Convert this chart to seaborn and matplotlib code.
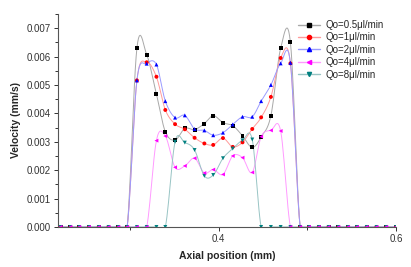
import matplotlib
matplotlib.use('Agg')
import matplotlib.pyplot as plt
import matplotlib.ticker as mticker
from matplotlib.lines import Line2D
import seaborn as sns
import pandas as pd
import numpy as np

# axial positions (mm) of the sampled points
x_pos = [0.222, 0.233, 0.243, 0.254, 0.265, 0.276, 0.287, 0.297, 0.308, 0.319,
         0.330, 0.340, 0.351, 0.362, 0.373, 0.384, 0.394, 0.405, 0.416, 0.427,
         0.438, 0.448, 0.459, 0.470, 0.481, 0.492, 0.502, 0.513, 0.524, 0.535,
         0.546, 0.556, 0.567, 0.578, 0.589, 0.600]

z8 = [0.0] * 8
v_05 = z8 + [0.0063, 0.00607, 0.00468, 0.00335, 0.00306, 0.00347, 0.00343, 0.00364,
             0.00392, 0.00367, 0.00357, 0.00321, 0.0028, 0.00317, 0.00392, 0.00629,
             0.0065] + [0.0] * 11
v_1 = z8 + [0.00516, 0.0058, 0.00529, 0.00412, 0.00362, 0.00344, 0.00314, 0.00294,
            0.00289, 0.00313, 0.00282, 0.00298, 0.00345, 0.00386, 0.00458, 0.00595,
            0.00576] + [0.0] * 11
v_2 = z8 + [0.00516, 0.00575, 0.00572, 0.00443, 0.00385, 0.00393, 0.00345, 0.0034,
            0.00323, 0.00332, 0.00361, 0.00388, 0.00388, 0.00443, 0.0050, 0.00576,
            0.00578] + [0.0] * 11
v_4 = [0.0] * 10 + [0.00304, 0.0032, 0.0021, 0.00215, 0.00242, 0.0019, 0.00202,
                    0.00185, 0.0025, 0.00244, 0.00192, 0.00318, 0.0034, 0.00338] + [0.0] * 12
v_8 = [0.0] * 12 + [0.003, 0.00297, 0.00271, 0.0018, 0.00183, 0.00242, 0.00276,
                    0.00305, 0.00308] + [0.0] * 15

labels = ['Qo=0.5μl/min', 'Qo=1μl/min', 'Qo=2μl/min', 'Qo=4μl/min', 'Qo=8μl/min']
values = [v_05, v_1, v_2, v_4, v_8]
colors = ['#000000', '#ff0000', '#0000ff', '#ff00ff', '#008080']
light = ['#a8a8a8', '#ff9a9a', '#9a9aff', '#ff9aff', '#98c4c4']
marks = ['s', 'o', '^', '<', 'v']


def smooth(x, y, n=12):
    # Catmull-Rom curve through the points, for the drawn line only
    x = np.asarray(x)
    y = np.asarray(y)
    yp = np.concatenate([[y[0]], y, [y[-1]]])
    xs, ys = [], []
    t = np.linspace(0, 1, n, endpoint=False)
    for i in range(len(x) - 1):
        p0, p1, p2, p3 = yp[i], yp[i + 1], yp[i + 2], yp[i + 3]
        yy = 0.5 * (2 * p1 + (-p0 + p2) * t + (2 * p0 - 5 * p1 + 4 * p2 - p3) * t ** 2
                    + (-p0 + 3 * p1 - 3 * p2 + p3) * t ** 3)
        xs.extend(x[i] + (x[i + 1] - x[i]) * t)
        ys.extend(yy)
    xs.append(x[-1])
    ys.append(y[-1])
    return xs, ys


rows = []
lines = []
for lab, v in zip(labels, values):
    for xx, vv in zip(x_pos, v):
        rows.append({'x': xx, 'v': vv, 'series': lab})
    sx, sy = smooth(x_pos, v)
    for xx, vv in zip(sx, sy):
        lines.append({'x': xx, 'v': vv, 'series': lab})
df = pd.DataFrame(rows)
dl = pd.DataFrame(lines)

# magenta markers sit on top at zero
order = ['Qo=0.5μl/min', 'Qo=1μl/min', 'Qo=2μl/min', 'Qo=8μl/min', 'Qo=4μl/min']
df['series'] = pd.Categorical(df['series'], order)
df = df.sort_values('series', kind='stable')

sns.set_style('ticks')
plt.rcParams['font.family'] = ['Liberation Sans', 'DejaVu Sans']

fig = plt.figure(figsize=(4.11, 2.67), dpi=100)
ax = fig.add_axes([0.141, 0.150, 0.8225, 0.7976])

sns.lineplot(data=dl, x='x', y='v', hue='series', palette=dict(zip(labels, light)),
             estimator=None, sort=False, linewidth=0.7, legend=False, ax=ax)
sns.scatterplot(data=df, x='x', y='v', hue='series', style='series',
                palette=dict(zip(labels, colors)), markers=dict(zip(labels, marks)),
                hue_order=order, style_order=order,
                s=8, linewidth=0, legend=False, ax=ax, zorder=3)

ax.set_xlim(0.219, 0.6)
ax.set_ylim(0, 0.0075)
ax.xaxis.set_major_locator(mticker.FixedLocator([0.4, 0.6]))
ax.xaxis.set_minor_locator(mticker.FixedLocator([0.3, 0.5]))
ax.yaxis.set_major_locator(mticker.MultipleLocator(0.001))
ax.yaxis.set_minor_locator(mticker.MultipleLocator(0.0005))
ax.yaxis.set_major_formatter(mticker.FormatStrFormatter('%.3f'))
ax.xaxis.set_major_formatter(mticker.FormatStrFormatter('%.1f'))
ax.tick_params(which='major', length=3, width=0.7, labelsize=7, colors='#333333', pad=2)
ax.tick_params(which='minor', length=2, width=0.7, colors='#333333')
for s in ['top', 'right']:
    ax.spines[s].set_visible(False)
for s in ['left', 'bottom']:
    ax.spines[s].set_color('#555555')
    ax.spines[s].set_linewidth(0.8)

ax.set_xlabel('Axial position (mm)', fontsize=7.5, fontweight='bold', labelpad=5)
ax.set_ylabel('Velocity (mm/s)', fontsize=7.5, fontweight='bold', labelpad=4)

handles = [Line2D([0], [0], color=lc, lw=1.0, marker=m, markerfacecolor=c,
                  markeredgecolor=c, markersize=3)
           for lc, c, m in zip(light, colors, marks)]
fig.legend(handles, labels, loc='upper left', bbox_to_anchor=(298 / 411, 1 - 20 / 267),
           frameon=False, fontsize=7, handlelength=2.3, handletextpad=0.5,
           labelspacing=0.25, borderaxespad=0, borderpad=0)

fig.savefig('out.png', dpi=100)
